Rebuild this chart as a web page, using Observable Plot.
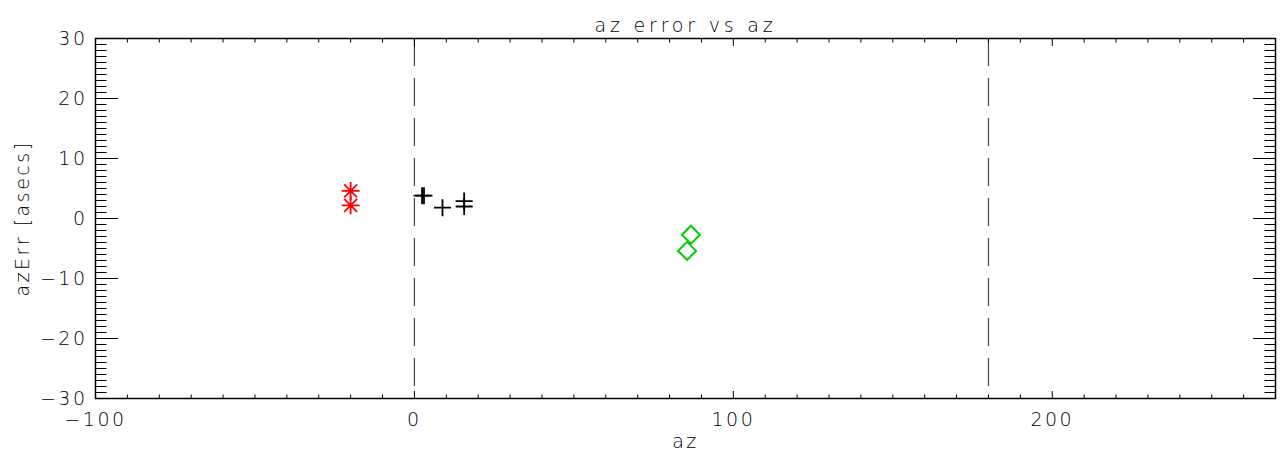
<!DOCTYPE html>
<html>
<head>
<meta charset="utf-8">
<script src="https://cdn.jsdelivr.net/npm/d3@7"></script>
<script src="https://cdn.jsdelivr.net/npm/@observablehq/plot@0.6"></script>
<style>
  html, body { margin: 0; padding: 0; background: #fff; }
  #chart svg { display: block; }
  #chart svg text { letter-spacing: 2.5px; font-weight: 200; }
  #chart svg g.title text { letter-spacing: 3.8px; }
</style>
</head>
<body>
<div id="chart"></div>
<script>
// ---- data ----
const titleText = "az error vs az";
const xLabel = "az";
const yLabel = "azErr [asecs]";

const xDomain = [-100, 270];
const yDomain = [-30, 30];
const xMajorTicks = [-100, 0, 100, 200];
const yMajorTicks = [-30, -20, -10, 0, 10, 20, 30];
const refLinesX = [0, 180];

const redAz = [-20, -20];
const redErr = [4.6, 2.2];

const blackAz = [2.4, 3.0, 8.8, 15.6, 15.6];
const blackErr = [3.8, 3.8, 1.8, 2.9, 2.0];

const greenAz = [86.7, 85.5];
const greenErr = [-2.7, -5.4];

// ---- build tables ----
const red = redAz.map((x, i) => ({x, y: redErr[i]}));
const black = blackAz.map((x, i) => ({x, y: blackErr[i]}));
const green = greenAz.map((x, i) => ({x, y: greenErr[i]}));

const xMinorTicks = d3.range(-100, 271, 10).filter(v => !xMajorTicks.includes(v));
const yMinorTicks = d3.range(-30, 31, 1).filter(v => !yMajorTicks.includes(v));

// ---- custom IDL-like symbols ----
const plusSym = {draw(c, size) { const r = Math.sqrt(size / Math.PI);
  c.moveTo(-r, 0); c.lineTo(r, 0); c.moveTo(0, -r); c.lineTo(0, r); }};
const asteriskSym = {draw(c, size) { const r = Math.sqrt(size / Math.PI); const d = r * 0.72;
  c.moveTo(-r, 0); c.lineTo(r, 0); c.moveTo(0, -r); c.lineTo(0, r);
  c.moveTo(-d, -d); c.lineTo(d, d); c.moveTo(-d, d); c.lineTo(d, -d); }};
const diamondSym = {draw(c, size) { const r = Math.sqrt(size / Math.PI);
  c.moveTo(0, -r); c.lineTo(r, 0); c.lineTo(0, r); c.lineTo(-r, 0); c.closePath(); }};

const font = "'DejaVu Sans', sans-serif";

const chart = Plot.plot({
  width: 1286,
  height: 461,
  marginLeft: 95,
  marginRight: 11,
  marginTop: 38,
  marginBottom: 63,
  style: {fontFamily: font, fontSize: "18px", color: "black", background: "white"},
  x: {domain: xDomain},
  y: {domain: yDomain},
  marks: [
    Plot.ruleX(refLinesX, {stroke: "#444", strokeWidth: 1.2, strokeDasharray: "28,12"}),
    Plot.frame({stroke: "black", strokeWidth: 1.5}),
    // inward ticks x
    Plot.axisX({anchor: "bottom", ticks: xMajorTicks, tickSize: 7, dy: -7, fill: "none", label: null, strokeWidth: 1}),
    Plot.axisX({anchor: "bottom", ticks: xMinorTicks, tickSize: 3.5, dy: -3.5, fill: "none", label: null, strokeWidth: 1}),
    Plot.axisX({anchor: "top", ticks: xMajorTicks, tickSize: 7, dy: 7, fill: "none", label: null, strokeWidth: 1}),
    Plot.axisX({anchor: "top", ticks: xMinorTicks, tickSize: 3.5, dy: 3.5, fill: "none", label: null, strokeWidth: 1}),
    // inward ticks y
    Plot.axisY({anchor: "left", ticks: yMajorTicks, tickSize: 23, dx: 23, fill: "none", label: null, strokeWidth: 1}),
    Plot.axisY({anchor: "left", ticks: yMinorTicks, tickSize: 11.5, dx: 11.5, fill: "none", label: null, strokeWidth: 1}),
    Plot.axisY({anchor: "right", ticks: yMajorTicks, tickSize: 23, dx: -23, fill: "none", label: null, strokeWidth: 1}),
    Plot.axisY({anchor: "right", ticks: yMinorTicks, tickSize: 11.5, dx: -11.5, fill: "none", label: null, strokeWidth: 1}),
    // tick labels
    Plot.axisX({anchor: "bottom", ticks: xMajorTicks, tickSize: 0, tickPadding: 14, label: null, fontSize: 19}),
    Plot.axisY({anchor: "left", ticks: yMajorTicks, tickSize: 0, tickPadding: 8, label: null, fontSize: 19}),
    // titles
    Plot.text([titleText], {frameAnchor: "top", dy: -20, fontSize: 19, className: "title"}),
    Plot.text([xLabel], {frameAnchor: "bottom", dy: 49, fontSize: 19}),
    Plot.text([yLabel], {frameAnchor: "left", dx: -73, rotate: -90, textAnchor: "middle", fontSize: 19}),
    // data
    Plot.dot(red, {x: "x", y: "y", symbol: asteriskSym, r: 9, stroke: "#ff0000", fill: "none", strokeWidth: 1.8}),
    Plot.dot(black, {x: "x", y: "y", symbol: plusSym, r: 8.5, stroke: "black", fill: "none", strokeWidth: 1.8}),
    Plot.dot(green, {x: "x", y: "y", symbol: diamondSym, r: 9, stroke: "#00cc00", fill: "none", strokeWidth: 2})
  ]
});
document.getElementById("chart").appendChild(chart);
</script>
</body>
</html>
